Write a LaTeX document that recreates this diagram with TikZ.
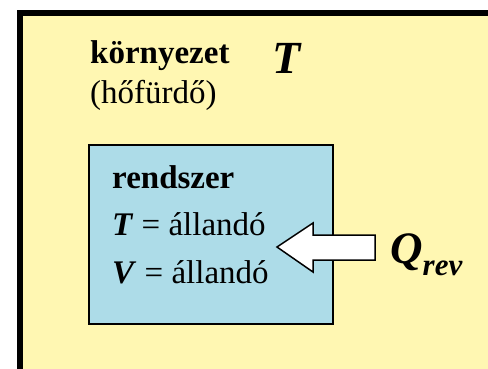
\documentclass[tikz,border=0pt]{standalone}
\usepackage{fontspec}
\setmainfont{Liberation Serif}
\usetikzlibrary{positioning}
\definecolor{envyellow}{HTML}{FFF7B2}
\definecolor{sysblue}{HTML}{ADDCE8}

\begin{document}
\begin{tikzpicture}[x=1pt, y=-1pt,
    label/.style={anchor=base west, inner sep=0pt},
    bigtext/.style={font=\fontsize{33}{36}\selectfont},
    symtext/.style={font=\fontsize{46}{50}\selectfont\bfseries\itshape},
    heattext/.style={font=\fontsize{45}{48}\selectfont\bfseries\itshape}]
    \useasboundingbox (0, 0) rectangle (488, 368);
    \clip (0, 0) rectangle (488, 368);
    % environment (heat bath)
    \draw[line width=6pt, fill=envyellow] (20, 13) rectangle (520, 400);
    % system
    \draw[line width=2pt, fill=sysblue] (89, 145) rectangle (333, 324);
    % heat arrow
    \draw[line width=1.5pt, fill=white, line join=miter]
        (277, 247) -- (313, 223) -- (313, 235) -- (375, 235)
        -- (375, 260) -- (313, 260) -- (313, 272) -- cycle;
    \node[label, bigtext] (env) at (90, 63) {\textbf{környezet}};
    \node[label, symtext] (envT) at (272, 73) {T};
    \node[label, bigtext] (bath) at (90, 103) {(hőfürdő)};
    \node[label, bigtext] (sys) at (112, 188) {\textbf{rendszer}};
    \node[label, bigtext] (sysT) at (112, 235) {\textbf{\textit{T}} = állandó};
    \node[label, bigtext] (sysV) at (112, 283) {\textbf{\textit{V}} = állandó};
    \node[label, heattext] (heat) at (390, 263) {Q\raisebox{-12pt}{\fontsize{31}{33}\selectfont rev}};
\end{tikzpicture}
\end{document}
